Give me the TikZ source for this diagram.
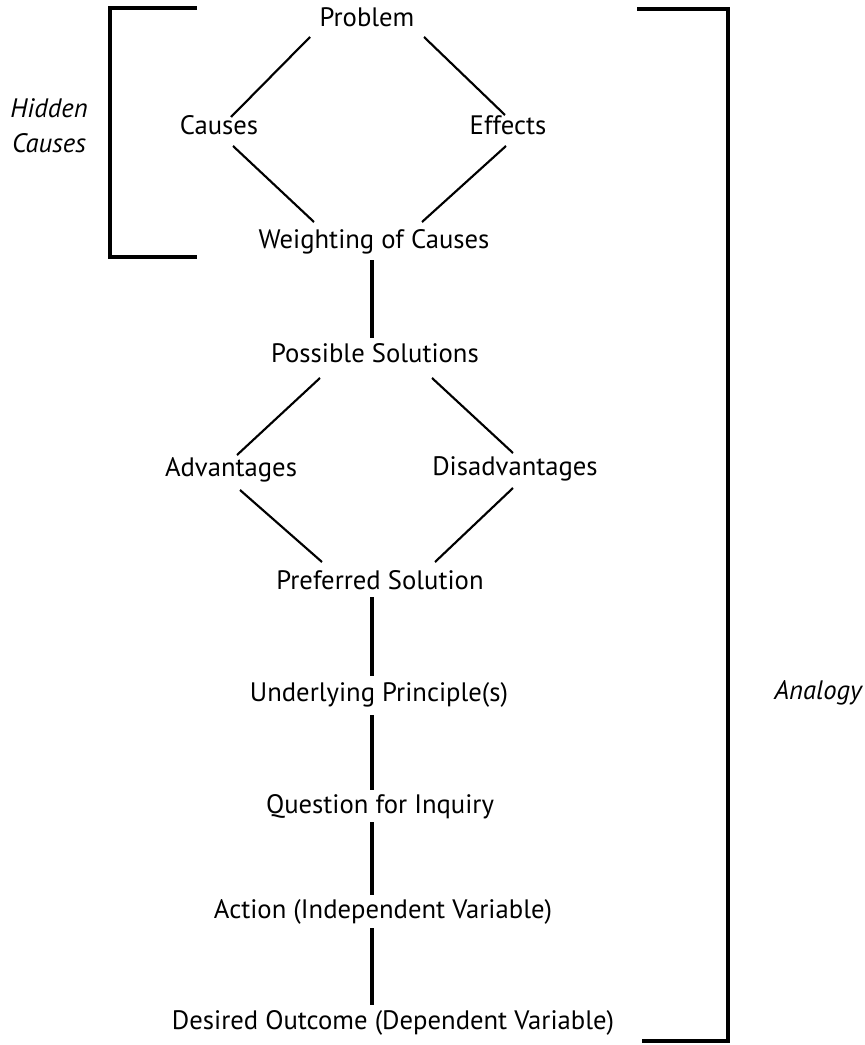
\documentclass[tikz,border=0pt]{standalone}
\usepackage{fontspec}
\setmainfont{PT Sans}
\begin{document}
\begin{tikzpicture}[x=0.75pt,y=-0.75pt,
  lbl/.style={inner sep=0pt, anchor=base, font=\fontsize{20}{24}\selectfont},
  side/.style={inner sep=0pt, anchor=base, font=\fontsize{20}{24}\selectfont\itshape},
  diag/.style={line width=1.6pt},
  vline/.style={line width=2.4pt},
  bracket/.style={line width=2.4pt}]
\useasboundingbox (0,0) rectangle (864,1045);

% brackets
\draw[bracket] (197,8) -- (110,8) -- (110,257) -- (197,257);
\draw[bracket] (637,9) -- (728,9) -- (728,1041) -- (642,1041);
\node[side] (hid1) at (49,118) {Hidden};
\node[side] (hid2) at (49,152) {Causes};
\node[side] (analogy) at (818,699) {Analogy};

% nodes
\node[lbl] (prob) at (367,27) {Problem};
\node[lbl] (causes) at (219,135) {Causes};
\node[lbl] (effects) at (508,135) {Effects};
\node[lbl] (weight) at (374,248) {Weighting of Causes};
\node[lbl] (poss) at (375,362) {Possible Solutions};
\node[lbl] (adv) at (231,476) {Advantages};
\node[lbl] (dis) at (515,475) {Disadvantages};
\node[lbl] (pref) at (380,589) {Preferred Solution};
\node[lbl] (und) at (379,701) {Underlying Principle(s)};
\node[lbl] (quest) at (380,813) {Question for Inquiry};
\node[lbl] (action) at (383,918) {Action (Independent Variable)};
\node[lbl] (desired) at (393,1029) {Desired Outcome (Dependent Variable)};

% diagonals
\draw[diag] ([shift={(-57,10)}]prob.base) -- ([shift={(12,-18)}]causes.base);
\draw[diag] ([shift={(57,10)}]prob.base) -- ([shift={(-3,-20)}]effects.base);
\draw[diag] ([shift={(14,11)}]causes.base) -- ([shift={(-60,-26)}]weight.base);
\draw[diag] ([shift={(-2,11)}]effects.base) -- ([shift={(48,-26)}]weight.base);
\draw[diag] ([shift={(-55,16)}]poss.base) -- ([shift={(6,-21)}]adv.base);
\draw[diag] ([shift={(57,16)}]poss.base) -- ([shift={(-2,-22)}]dis.base);
\draw[diag] ([shift={(9,14)}]adv.base) -- ([shift={(-58,-27)}]pref.base);
\draw[diag] ([shift={(-2,13)}]dis.base) -- ([shift={(55,-27)}]pref.base);

% verticals
\draw[vline] ([shift={(-2,12)}]weight.base) -- ([shift={(-3,-24)}]poss.base);
\draw[vline] ([shift={(-8,8)}]pref.base) -- ([shift={(-7,-25)}]und.base);
\draw[vline] ([shift={(-7,14)}]und.base) -- ([shift={(-8,-23)}]quest.base);
\draw[vline] ([shift={(-8,9)}]quest.base) -- ([shift={(-11,-23)}]action.base);
\draw[vline] ([shift={(-11,10)}]action.base) -- ([shift={(-21,-24)}]desired.base);
\end{tikzpicture}
\end{document}
